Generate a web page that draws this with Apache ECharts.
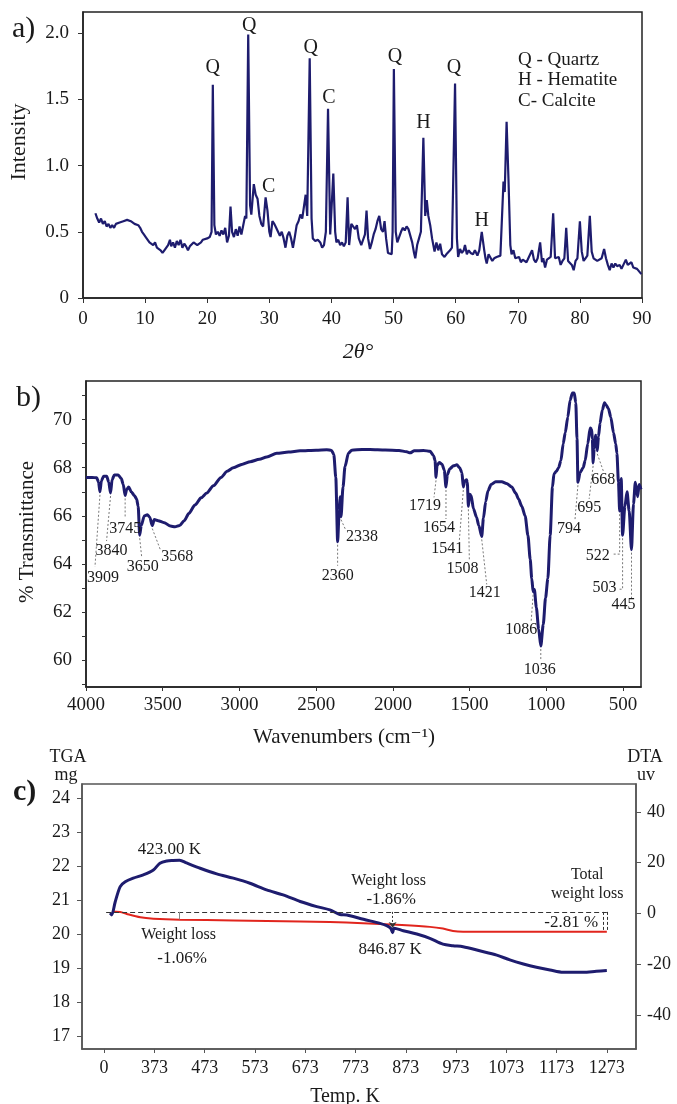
<!DOCTYPE html>
<html>
<head>
<meta charset="utf-8">
<title>XRD, FTIR and TGA/DTA</title>
<script src="https://cdn.jsdelivr.net/npm/echarts@6/dist/echarts.min.js"></script>
<style>
  html, body { margin: 0; padding: 0; background: #fff; }
  #chart { width: 677px; height: 1104px; }
</style>
</head>
<body>
<div id="chart"></div>
<script>
// ---------- a) X-ray diffraction pattern: [2θ (deg), intensity] ----------
const xrdPattern = [
  [2.0,0.64],[2.3,0.60],[2.6,0.57],[2.9,0.60],[3.2,0.56],[3.5,0.58],[3.8,0.54],[4.1,0.56],[4.4,0.53],[4.7,0.55],
  [5.0,0.53],[5.3,0.56],[5.6,0.55],[5.9,0.57],[6.2,0.56],[6.5,0.58],[6.8,0.57],[7.1,0.59],[7.4,0.58],[7.7,0.58],
  [8.0,0.57],[8.3,0.56],[8.6,0.57],[8.9,0.55],[9.2,0.53],[9.5,0.50],[9.8,0.48],[10.1,0.46],[10.4,0.45],[10.7,0.42],
  [11.0,0.43],[11.3,0.40],[11.6,0.42],[11.9,0.38],[12.2,0.37],[12.5,0.36],[12.8,0.34],[13.1,0.36],[13.4,0.35],[13.7,0.40],
  [14.0,0.44],[14.2,0.39],[14.5,0.42],[14.8,0.38],[15.1,0.43],[15.4,0.40],[15.7,0.44],[16.0,0.38],[16.3,0.41],[16.6,0.39],
  [16.9,0.36],[17.2,0.39],[17.5,0.38],[17.8,0.42],[18.1,0.41],[18.4,0.40],[18.7,0.39],[19.0,0.42],[19.3,0.44],[19.6,0.45],
  [20.0,0.45],[20.4,0.46],[20.7,0.50],[20.9,1.61],[21.15,0.55],[21.4,0.48],[21.7,0.50],[22.0,0.47],[22.3,0.51],[22.6,0.48],
  [22.9,0.53],[23.2,0.42],[23.5,0.47],[23.75,0.69],[24.0,0.50],[24.3,0.46],[24.6,0.52],[24.9,0.47],[25.2,0.54],[25.5,0.48],
  [25.8,0.55],[26.1,0.62],[26.3,0.60],[26.6,1.99],[26.9,0.70],[27.1,0.63],[27.5,0.86],[27.8,0.78],[28.1,0.75],[28.4,0.62],
  [28.7,0.56],[29.0,0.54],[29.4,0.76],[29.7,0.66],[30.0,0.50],[30.2,0.46],[30.5,0.58],[30.8,0.56],[31.1,0.53],[31.4,0.52],
  [31.7,0.47],[32.0,0.50],[32.3,0.45],[32.6,0.38],[32.9,0.47],[33.2,0.50],[33.5,0.45],[33.8,0.38],[34.1,0.46],[34.4,0.55],
  [34.7,0.58],[35.0,0.63],[35.3,0.60],[35.6,0.70],[35.85,0.78],[36.1,0.62],[36.5,1.81],[36.8,0.60],[37.0,0.45],[37.4,0.43],
  [37.8,0.44],[38.2,0.42],[38.5,0.38],[38.8,0.40],[39.1,0.50],[39.45,1.43],[39.8,0.48],[40.0,0.47],[40.3,0.94],[40.6,0.50],
  [40.8,0.42],[41.1,0.44],[41.4,0.40],[41.7,0.42],[42.0,0.39],[42.3,0.42],[42.6,0.76],[42.85,0.40],[43.2,0.56],[43.5,0.55],
  [43.8,0.52],[44.1,0.55],[44.4,0.45],[44.8,0.40],[45.1,0.44],[45.4,0.48],[45.65,0.66],[45.9,0.45],[46.2,0.37],[46.5,0.42],
  [46.8,0.48],[47.1,0.52],[47.4,0.58],[47.7,0.62],[48.0,0.52],[48.3,0.50],[48.55,0.58],[48.8,0.45],[49.1,0.34],[49.4,0.35],
  [49.7,0.33],[49.85,0.50],[50.05,1.73],[50.35,0.50],[50.6,0.42],[50.9,0.46],[51.2,0.50],[51.5,0.53],[51.8,0.51],[52.1,0.54],
  [52.4,0.52],[52.7,0.51],[53.0,0.42],[53.3,0.34],[53.5,0.30],[53.8,0.40],[54.1,0.45],[54.4,0.50],[54.8,1.21],[55.1,0.62],
  [55.35,0.74],[55.6,0.62],[55.9,0.55],[56.2,0.45],[56.6,0.35],[56.9,0.42],[57.2,0.36],[57.5,0.41],[57.8,0.33],[58.2,0.31],
  [58.5,0.33],[58.8,0.33],[59.1,0.36],[59.4,0.38],[59.9,1.62],[60.2,0.45],[60.4,0.31],[60.7,0.37],[61.0,0.34],[61.3,0.36],
  [61.5,0.40],[61.8,0.33],[62.1,0.36],[62.4,0.34],[62.8,0.33],[63.1,0.36],[63.5,0.32],[63.8,0.36],[64.2,0.50],[64.6,0.36],
  [64.8,0.30],[65.0,0.26],[65.3,0.33],[65.6,0.32],[65.9,0.28],[66.2,0.30],[66.6,0.31],[66.9,0.30],[67.2,0.32],[67.45,0.33],
  [67.7,0.88],[67.9,0.80],[68.2,1.33],[68.5,0.90],[68.8,0.40],[69.0,0.33],[69.3,0.36],[69.6,0.30],[69.9,0.29],[70.2,0.31],
  [70.5,0.27],[70.8,0.29],[71.1,0.28],[71.4,0.27],[71.7,0.30],[72.0,0.31],[72.3,0.36],[72.6,0.29],[72.9,0.27],[73.2,0.30],
  [73.6,0.42],[73.9,0.27],[74.1,0.30],[74.4,0.23],[74.7,0.29],[75.0,0.30],[75.3,0.31],[75.7,0.64],[76.0,0.30],[76.3,0.29],
  [76.6,0.31],[76.9,0.25],[77.2,0.28],[77.5,0.30],[77.8,0.53],[78.1,0.28],[78.4,0.27],[78.7,0.25],[79.0,0.21],[79.3,0.28],
  [79.6,0.30],[80.0,0.58],[80.3,0.35],[80.6,0.28],[80.9,0.30],[81.2,0.32],[81.6,0.62],[81.9,0.35],[82.2,0.30],[82.5,0.29],
  [82.8,0.28],[83.1,0.27],[83.5,0.30],[83.9,0.37],[84.2,0.30],[84.5,0.25],[84.8,0.21],[85.1,0.26],[85.4,0.23],[85.7,0.26],
  [86.0,0.24],[86.4,0.25],[86.7,0.22],[87.0,0.25],[87.4,0.29],[87.7,0.25],[88.0,0.24],[88.3,0.27],[88.6,0.23],[88.9,0.24],
  [89.2,0.22],[89.5,0.21],[89.9,0.18]
];
const xrdPeaks  = [20.9, 26.6, 29.4, 36.5, 39.45, 50.05, 54.8, 59.9, 64.2];
const xrdPhases = ['Q', 'Q', 'C', 'Q', 'C', 'Q', 'H', 'Q', 'H'];
const xrdPhaseKey = ['Q - Quartz', 'H - Hematite', 'C- Calcite'];
const xrdTicksX = [0, 10, 20, 30, 40, 50, 60, 70, 80, 90];
const xrdTicksY = [0, 0.5, 1.0, 1.5, 2.0];

// ---------- b) FTIR spectrum: [wavenumber (cm-1), % transmittance] ----------
const irSpectrum = [
  [4000,67.6],[3960,67.6],[3930,67.58],[3918,67.4],[3909,67.0],[3900,67.45],[3885,67.65],[3865,67.65],[3852,67.4],[3840,66.95],
  [3830,67.5],[3815,67.7],[3790,67.7],[3770,67.55],[3757,67.3],[3745,66.85],[3735,67.1],[3722,67.2],[3705,67.0],[3685,66.85],
  [3670,66.7],[3660,66.4],[3650,65.2],[3640,65.6],[3620,66.0],[3600,66.05],[3585,65.95],[3568,65.6],[3555,65.85],[3530,65.8],
  [3490,65.72],[3450,65.58],[3420,65.55],[3390,65.6],[3360,65.8],[3330,66.1],[3290,66.45],[3250,66.75],[3213,66.95],[3170,67.25],
  [3120,67.6],[3080,67.85],[3040,68.0],[2980,68.15],[2930,68.25],[2870,68.35],[2822,68.45],[2757,68.6],[2680,68.65],[2605,68.7],
  [2500,68.73],[2431,68.75],[2400,68.72],[2385,68.55],[2372,67.6],[2360,64.93],[2350,66.2],[2344,66.8],[2338,65.97],[2325,67.2],
  [2312,68.05],[2290,68.6],[2268,68.73],[2200,68.76],[2149,68.76],[2050,68.74],[1960,68.72],[1910,68.66],[1888,68.62],[1860,68.7],
  [1800,68.72],[1757,68.68],[1735,68.5],[1725,68.3],[1719,67.6],[1712,68.1],[1697,68.22],[1680,68.15],[1665,67.9],[1654,67.2],
  [1645,67.7],[1630,67.95],[1605,68.08],[1583,68.12],[1565,68.0],[1550,67.8],[1541,67.2],[1532,67.45],[1520,67.5],[1515,67.4],
  [1508,66.4],[1500,66.9],[1490,66.85],[1475,66.3],[1455,65.95],[1440,65.6],[1421,65.15],[1410,65.9],[1395,66.6],[1380,67.05],
  [1360,67.3],[1330,67.42],[1290,67.42],[1260,67.35],[1225,67.2],[1200,66.95],[1181,66.7],[1160,66.4],[1138,66.0],[1120,65.2],
  [1105,64.2],[1095,63.4],[1086,62.85],[1078,62.95],[1065,62.2],[1050,61.3],[1036,60.6],[1020,61.5],[1005,62.6],[990,63.4],
  [975,65.2],[960,67.2],[950,67.75],[935,67.85],[920,68.0],[905,68.3],[890,69.0],[877,69.45],[860,70.1],[845,70.8],
  [830,71.1],[818,71.1],[808,70.7],[800,69.2],[794,67.4],[780,67.8],[760,68.0],[747,68.3],[730,69.0],[714,69.65],
  [705,69.6],[700,69.2],[695,68.2],[688,68.8],[680,69.35],[675,69.3],[668,68.7],[660,69.3],[650,69.85],[635,70.4],
  [621,70.7],[610,70.6],[595,70.45],[580,70.1],[562,69.45],[548,69.0],[540,68.6],[530,67.4],[522,66.2],[512,67.55],
  [503,65.2],[488,66.4],[474,67.0],[460,66.2],[445,64.6],[432,66.5],[420,67.4],[405,66.8],[395,67.3],[383,67.1]
];
const irBands = [3909, 3840, 3745, 3650, 3568, 2360, 2338, 1719, 1654, 1541, 1508, 1421, 1086, 1036, 794, 695, 668, 522, 503, 445];
const irTicksX = [4000, 3500, 3000, 2500, 2000, 1500, 1000, 500];
const irTicksY = [60, 62, 64, 66, 68, 70];
const irMinorTicksY = [59, 60, 61, 62, 63, 64, 65, 66, 67, 68, 69, 70, 71];

// ---------- c) thermal analysis ----------
// TGA mass (mg) and DTA signal (uV) against temperature (K)
const tgaCurve = [
  [290,20.66],[305,20.65],[318,20.59],[345,20.49],[371,20.45],[424,20.42],[530,20.40],[663,20.37],[722,20.35],[788,20.32],
  [855,20.27],[921,20.21],[947,20.16],[967,20.09],[987,20.07],[1054,20.07],[1150,20.07],[1273,20.07]
];
const dtaCurve = [
  [285,0.1],[288,-0.6],[295,4.5],[305,10.6],[315,12.5],[331,13.9],[351,15.2],[371,17.1],[384,19.8],[398,20.7],
  [410,20.9],[423,21.0],[437,19.9],[464,17.8],[497,15.6],[530,13.9],[563,11.9],[596,9.3],[629,7.3],[663,4.7],
  [696,2.7],[722,1.4],[742,-0.4],[756,-0.6],[789,-2.3],[822,-3.9],[835,-4.8],[843,-5.8],[846.87,-7.6],[850,-5.8],
  [868,-6.8],[895,-8.1],[921,-9.8],[947,-12.1],[967,-12.7],[987,-13.1],[1020,-14.7],[1054,-16.4],[1080,-18.3],[1107,-19.9],
  [1133,-21.2],[1160,-22.3],[1186,-23.2],[1226,-23.2],[1252,-22.8],[1273,-22.5]
];
const dtaEvents = [423.00, 846.87];
const tgaStartMass = 20.65;
const tgaPlateauMass = 20.43;
const tgaFinalMass = 20.07;
const tempTicks = [273, 373, 473, 573, 673, 773, 873, 973, 1073, 1173, 1273];
const tempTickLabels = ['0', '373', '473', '573', '673', '773', '873', '973', '1073', '1173', '1273'];
const tgaTicks = [17, 18, 19, 20, 21, 22, 23, 24];
const dtaTicks = [-40, -20, 0, 20, 40];
const massLossSteps = ['-1.06%', '-1.86%', '-2.81 %'];

// ---------- styling & layout ----------
const NAVY = '#1e1c6e';
const RED = '#e1251d';
const INK = '#1a1a1a';
const SERIF = '"Liberation Serif", "DejaVu Serif", serif';

// phase tag placement above each XRD peak (px): [dx, lift]
const xrdTagLayout = [[0,17],[1,9],[3,11],[1,11],[1,11],[1,12],[0,15],[-1,16],[0,11]];

// leader path (px offsets from band minimum) and label centre for each FTIR band
const irLeaderLayout = [
  { path: [[-5,75]], text: [3,86] },
  { path: [[-4,48]], text: [1,58] },
  { path: [[0,22]], text: [0,33] },
  { path: [[2,22]], text: [3,32] },
  { path: [[8,24]], text: [25,31] },
  { path: [[0,24]], text: [0,34] },
  { path: [[5,14]], text: [21,20] },
  { path: [[-2,20]], text: [-11,28] },
  { path: [[0,32]], text: [-7,41] },
  { path: [[-4,54]], text: [-16,62] },
  { path: [[1,55]], text: [-6,63] },
  { path: [[5,48]], text: [3,56] },
  { path: [[-2,30]], text: [-12,38] },
  { path: [[0,15]], text: [-1,24] },
  { path: [[-3,38]], text: [-9,47] },
  { path: [[-4,36]], text: [-4,45] },
  { path: [[6,20]], text: [6,29] },
  { path: [[0,43],[-8,43]], text: [-22,45] },
  { path: [[0,54],[-5,54]], text: [-18,53] },
  { path: [[0,50]], text: [-8,55] }
];

// thermal annotations, anchored in (K, mg) on the TGA axis
const thermalNotes = [
  { text: dtaEvents[0].toFixed(2) + ' K', at: [403, 22.47], size: 17 },
  { text: 'Weight loss', at: [421, 19.97], size: 16 },
  { text: massLossSteps[0], at: [428, 19.28], size: 17 },
  { text: 'Weight loss', at: [839, 21.56], size: 16 },
  { text: massLossSteps[1], at: [844, 21.01], size: 17 },
  { text: dtaEvents[1].toFixed(2) + ' K', at: [842, 19.53], size: 17 },
  { text: 'Total', at: [1234, 21.74], size: 16 },
  { text: 'weight loss', at: [1234, 21.19], size: 16 },
  { text: massLossSteps[2], at: [1202, 20.34], size: 17 }
];

const valueAt = (series, x) => series.find(p => p[0] === x)[1];

const chart = echarts.init(document.getElementById('chart'), null, { renderer: 'canvas' });

function frameAxis(extra) {
  return Object.assign({
    axisLine: { show: true, onZero: false, lineStyle: { color: '#222', width: 1.5 } },
    axisTick: { show: true, inside: false, length: 5, lineStyle: { color: '#333', width: 1 } },
    splitLine: { show: false },
    axisLabel: { color: INK, fontFamily: SERIF, fontSize: 19 }
  }, extra);
}

const plain = v => String(v);

const option = {
  animation: false,
  backgroundColor: '#fff',
  textStyle: { fontFamily: SERIF, color: INK },
  grid: [
    { left: 83, top: 12, width: 559, height: 286, show: true, borderColor: '#222', borderWidth: 1.5, backgroundColor: 'transparent' },
    { left: 86, top: 381, width: 555, height: 306, show: true, borderColor: '#222', borderWidth: 1.5, backgroundColor: 'transparent' },
    { left: 82, top: 784, width: 554, height: 265, show: true, borderColor: '#555', borderWidth: 1.5, backgroundColor: 'transparent' }
  ],
  xAxis: [
    frameAxis({
      gridIndex: 0, type: 'value', min: 0, max: 90,
      axisLabel: { color: INK, fontFamily: SERIF, fontSize: 19, margin: 12, customValues: xrdTicksX, formatter: plain },
      axisTick: { show: true, length: 5, customValues: xrdTicksX, lineStyle: { color: '#333' } }
    }),
    frameAxis({
      gridIndex: 1, type: 'value', min: 383, max: 4000, inverse: true,
      axisLabel: { color: INK, fontFamily: SERIF, fontSize: 19, margin: 9, customValues: irTicksX, formatter: plain },
      axisTick: { show: true, length: 4, customValues: irTicksX, lineStyle: { color: '#333' } }
    }),
    frameAxis({
      gridIndex: 2, type: 'value', min: 229, max: 1331,
      axisLine: { show: true, onZero: false, lineStyle: { color: '#555', width: 1.5 } },
      axisLabel: {
        color: INK, fontFamily: SERIF, fontSize: 18, margin: 10, customValues: tempTicks,
        formatter: v => tempTickLabels[tempTicks.indexOf(v)]
      },
      axisTick: { show: true, length: 4, customValues: tempTicks, lineStyle: { color: '#555' } }
    })
  ],
  yAxis: [
    frameAxis({
      gridIndex: 0, type: 'value', min: 0, max: 2.16,
      axisLabel: {
        color: INK, fontFamily: SERIF, fontSize: 19, margin: 14, customValues: xrdTicksY,
        formatter: v => (v === 0 ? '0' : v.toFixed(1))
      },
      axisTick: { show: true, length: 5, customValues: xrdTicksY, lineStyle: { color: '#333' } }
    }),
    frameAxis({
      gridIndex: 1, type: 'value', min: 58.9, max: 71.6,
      axisLabel: { color: INK, fontFamily: SERIF, fontSize: 19, margin: 14, customValues: irTicksY, formatter: plain },
      axisTick: { show: true, length: 4, customValues: irMinorTicksY, lineStyle: { color: '#333' } }
    }),
    frameAxis({
      gridIndex: 2, type: 'value', min: 16.62, max: 24.41, position: 'left',
      axisLine: { show: true, onZero: false, lineStyle: { color: '#555', width: 1.5 } },
      axisLabel: { color: INK, fontFamily: SERIF, fontSize: 18, margin: 12, customValues: tgaTicks, formatter: plain },
      axisTick: { show: true, length: 5, customValues: tgaTicks, lineStyle: { color: '#555' } }
    }),
    frameAxis({
      gridIndex: 2, type: 'value', min: -53.4, max: 51, position: 'right',
      axisLine: { show: true, onZero: false, lineStyle: { color: '#555', width: 1.5 } },
      axisLabel: { color: INK, fontFamily: SERIF, fontSize: 18, margin: 11, customValues: dtaTicks, formatter: plain },
      axisTick: { show: true, length: 5, customValues: dtaTicks, lineStyle: { color: '#555' } }
    })
  ],
  series: [
    // a) diffraction pattern
    {
      name: 'XRD', type: 'line', xAxisIndex: 0, yAxisIndex: 0,
      data: xrdPattern, showSymbol: false, symbol: 'none',
      lineStyle: { color: NAVY, width: 2.2 }, z: 3
    },
    // a) phase tags over the indexed reflections
    {
      name: 'XRD phases', type: 'custom', xAxisIndex: 0, yAxisIndex: 0, z: 5,
      data: xrdPeaks.map(x => [x, valueAt(xrdPattern, x)]),
      renderItem: (params, api) => {
        const p = api.coord([api.value(0), api.value(1)]);
        const lay = xrdTagLayout[params.dataIndex];
        return {
          type: 'text', x: p[0] + lay[0], y: p[1] - lay[1],
          style: {
            text: xrdPhases[params.dataIndex], fill: INK, fontSize: 20, fontFamily: SERIF,
            align: 'center', verticalAlign: 'middle'
          }
        };
      }
    },
    // b) FTIR spectrum
    {
      name: 'FTIR', type: 'line', xAxisIndex: 1, yAxisIndex: 1,
      data: irSpectrum, showSymbol: false, symbol: 'none', smooth: 0.25, smoothMonotone: 'x',
      lineStyle: { color: NAVY, width: 3 }, z: 3
    },
    // b) band assignments with dashed leaders
    {
      name: 'FTIR bands', type: 'custom', xAxisIndex: 1, yAxisIndex: 1, z: 4,
      data: irBands.map(w => [w, valueAt(irSpectrum, w)]),
      renderItem: (params, api) => {
        const w = api.value(0);
        const p = api.coord([w, api.value(1)]);
        const lay = irLeaderLayout[params.dataIndex];
        const pts = [[p[0], p[1] + 3]].concat(lay.path.map(d => [p[0] + d[0], p[1] + d[1]]));
        return {
          type: 'group',
          children: [
            { type: 'polyline', shape: { points: pts },
              style: { stroke: '#6a6a6a', lineWidth: 0.9, lineDash: [2, 2], fill: null } },
            { type: 'text', x: p[0] + lay.text[0], y: p[1] + lay.text[1],
              style: { text: String(w), fill: INK, fontSize: 16, fontFamily: SERIF,
                       align: 'center', verticalAlign: 'middle' } }
          ]
        };
      }
    },
    // c) TGA mass curve with weight-loss guides
    {
      name: 'TGA', type: 'line', xAxisIndex: 2, yAxisIndex: 2,
      data: tgaCurve, showSymbol: false, symbol: 'none', smooth: 0.3,
      lineStyle: { color: RED, width: 2 }, z: 3,
      markLine: {
        silent: true, symbol: 'none', animation: false,
        label: { show: false },
        data: [
          [{ coord: [277, tgaStartMass], lineStyle: { color: '#333', type: [5, 3], width: 1 } },
           { coord: [1273, tgaStartMass] }],
          [{ coord: [1265, tgaStartMass], lineStyle: { color: '#333', type: [3, 2], width: 1 } },
           { coord: [1265, tgaFinalMass] }],
          [{ coord: [1273, tgaStartMass], lineStyle: { color: '#333', type: [3, 2], width: 1 } },
           { coord: [1273, tgaFinalMass] }],
          [{ coord: [422, tgaStartMass], lineStyle: { color: '#888', type: 'solid', width: 1 } },
           { coord: [422, tgaPlateauMass] }],
          [{ coord: [dtaEvents[1], tgaStartMass], lineStyle: { color: '#333', type: [2, 2], width: 1 } },
           { coord: [dtaEvents[1], 20.18], symbol: 'arrow', symbolSize: 6 }]
        ]
      }
    },
    // c) DTA signal
    {
      name: 'DTA', type: 'line', xAxisIndex: 2, yAxisIndex: 3,
      data: dtaCurve, showSymbol: false, symbol: 'none', smooth: 0.3,
      lineStyle: { color: NAVY, width: 3 }, z: 4
    },
    // c) annotations
    {
      name: 'Thermal notes', type: 'custom', xAxisIndex: 2, yAxisIndex: 2, z: 6,
      data: thermalNotes.map(n => n.at),
      renderItem: (params, api) => {
        const n = thermalNotes[params.dataIndex];
        const p = api.coord([api.value(0), api.value(1)]);
        return {
          type: 'text', x: p[0], y: p[1],
          style: { text: n.text, fill: INK, fontSize: n.size, fontFamily: SERIF,
                   align: 'center', verticalAlign: 'middle' }
        };
      }
    }
  ],
  graphic: [
    // panel letters
    { type: 'text', left: 12, top: 14, style: { text: 'a)', fontSize: 30, fontFamily: SERIF, fill: INK } },
    { type: 'text', left: 16, top: 383, style: { text: 'b)', fontSize: 30, fontFamily: SERIF, fill: INK } },
    { type: 'text', left: 13, top: 777, style: { text: 'c)', fontSize: 30, fontFamily: SERIF, fill: INK, fontWeight: 'bold' } },
    // a) axis titles and phase key
    { type: 'text', x: 19.5, y: 142, rotation: Math.PI / 2,
      style: { text: 'Intensity', fontSize: 22, fontFamily: SERIF, fill: INK, align: 'center', verticalAlign: 'middle' } },
    { type: 'text', x: 358, y: 352,
      style: { text: '2θ°', fontSize: 22, fontStyle: 'italic', fontFamily: SERIF, fill: INK, align: 'center', verticalAlign: 'middle' } },
    { type: 'text', x: 518, y: 60,
      style: { text: xrdPhaseKey[0], fontSize: 19, fontFamily: SERIF, fill: INK, align: 'left', verticalAlign: 'middle' } },
    { type: 'text', x: 518, y: 80.5,
      style: { text: xrdPhaseKey[1], fontSize: 19, fontFamily: SERIF, fill: INK, align: 'left', verticalAlign: 'middle' } },
    { type: 'text', x: 518, y: 101,
      style: { text: xrdPhaseKey[2], fontSize: 19, fontFamily: SERIF, fill: INK, align: 'left', verticalAlign: 'middle' } },
    // b) axis titles
    { type: 'text', x: 27, y: 532, rotation: Math.PI / 2,
      style: { text: '% Transmittance', fontSize: 21, fontFamily: SERIF, fill: INK, align: 'center', verticalAlign: 'middle' } },
    { type: 'text', x: 344, y: 737,
      style: { text: 'Wavenumbers (cm⁻¹)', fontSize: 21, fontFamily: SERIF, fill: INK, align: 'center', verticalAlign: 'middle' } },
    // c) axis titles
    { type: 'text', x: 68, y: 757,
      style: { text: 'TGA', fontSize: 18, fontFamily: SERIF, fill: INK, align: 'center', verticalAlign: 'middle' } },
    { type: 'text', x: 66, y: 775,
      style: { text: 'mg', fontSize: 18, fontFamily: SERIF, fill: INK, align: 'center', verticalAlign: 'middle' } },
    { type: 'text', x: 645, y: 757,
      style: { text: 'DTA', fontSize: 18, fontFamily: SERIF, fill: INK, align: 'center', verticalAlign: 'middle' } },
    { type: 'text', x: 646, y: 775,
      style: { text: 'uv', fontSize: 18, fontFamily: SERIF, fill: INK, align: 'center', verticalAlign: 'middle' } },
    { type: 'text', x: 345, y: 1097,
      style: { text: 'Temp. K', fontSize: 20, fontFamily: SERIF, fill: INK, align: 'center', verticalAlign: 'middle' } }
  ]
};

chart.setOption(option);
</script>
</body>
</html>
